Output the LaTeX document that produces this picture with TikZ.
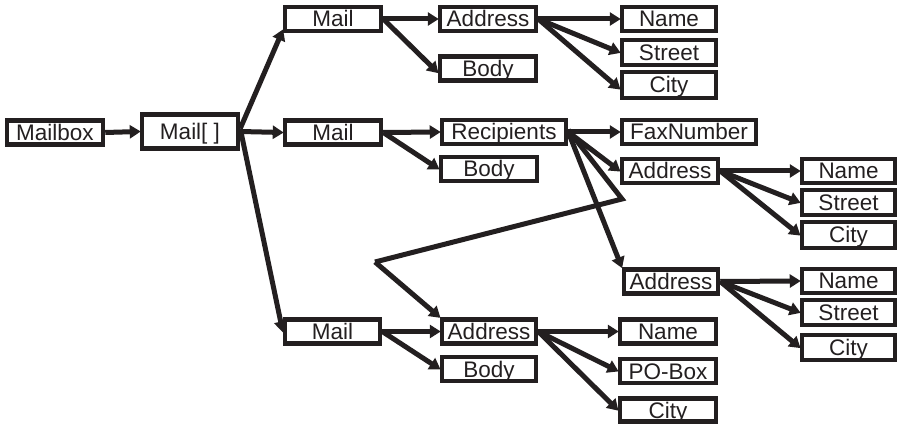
\documentclass[tikz,border=0pt]{standalone}
\usepackage{fontspec}
\setmainfont{Liberation Sans}
\usetikzlibrary{arrows.meta}
\definecolor{ink}{RGB}{35,31,32}
\begin{document}
\begin{tikzpicture}[x=1pt,y=-1pt,
  box/.style={draw=ink,line width=4.5pt,inner sep=0pt,minimum height=24pt,
    font=\fontsize{22.5}{24}\selectfont,text=ink,text height=16pt,text depth=0pt},
  conn/.style={draw=ink,line width=5pt,-{Triangle[length=11pt,width=13pt]},shorten >=-1pt},
  plain/.style={draw=ink,line width=5pt,line join=miter}]
\useasboundingbox (0,0) rectangle (901,427);
% nodes
\node[box,minimum width=96pt] (mailbox) at (55,132.5) {Mailbox};
\node[box,minimum width=96pt,minimum height=34pt] (mailarr) at (190,131.5) {Mail[ ]};
\node[box,minimum width=96pt] (mail1) at (333,19) {Mail};
\node[box,minimum width=96pt] (addr1) at (488,19) {Address};
\node[box,minimum width=96pt] (body1) at (488,68.5) {Body};
\node[box,minimum width=94pt] (name1) at (669,19) {Name};
\node[box,minimum width=94pt,minimum height=25pt] (street1) at (669,52.5) {Street};
\node[box,minimum width=94pt,minimum height=26pt] (city1) at (669,85) {City};
\node[box,minimum width=96pt] (mail2) at (333,132.5) {Mail};
\node[box,minimum width=124pt] (recip) at (504,132) {Recipients};
\node[box,minimum width=96pt] (body2) at (489,169) {Body};
\node[box,minimum width=134pt] (fax) at (689,132) {FaxNumber};
\node[box,minimum width=96pt] (addr2) at (670,171) {Address};
\node[box,minimum width=93pt] (name2) at (848.5,171) {Name};
\node[box,minimum width=93pt,minimum height=25pt] (street2) at (848.5,202.5) {Street};
\node[box,minimum width=93pt,minimum height=26pt] (city2) at (848.5,235) {City};
\node[box,minimum width=94pt] (addr3) at (671,281.5) {Address};
\node[box,minimum width=93pt] (name3) at (848.5,281) {Name};
\node[box,minimum width=93pt,minimum height=25pt] (street3) at (848.5,312.5) {Street};
\node[box,minimum width=93pt,minimum height=25pt] (city3) at (848.5,347.5) {City};
\node[box,minimum width=95pt] (mail3) at (332.5,331.5) {Mail};
\node[box,minimum width=94pt] (addr4) at (489,331.5) {Address};
\node[box,minimum width=94pt] (body3) at (489,369) {Body};
\node[box,minimum width=96pt] (name4) at (668,331.5) {Name};
\node[box,minimum width=96pt] (pobox) at (668,371) {PO-Box};
\node[box,minimum width=96pt,minimum height=23pt] (city4) at (668,410) {City};
\coordinate (k1) at (622,199);
\coordinate (k2) at (375,262);
% connectors
\draw[conn] (mailbox.east) -- (mailarr.west);
\draw[conn] ([yshift=3pt]mailarr.east) -- ([yshift=3pt]mail1.south west);
\draw[conn] (mailarr.east) -- (mail2.west);
\draw[conn] ([yshift=3pt]mailarr.east) -- (mail3.west);
\draw[conn] (mail1.east) -- (addr1.west);
\draw[conn] (mail1.east) -- ([yshift=-4pt]body1.west);
\draw[conn] (addr1.east) -- (name1.west);
\draw[conn] (addr1.east) -- (street1.west);
\draw[conn] (addr1.east) -- ([yshift=-4pt]city1.west);
\draw[conn] (mail2.east) -- (recip.west);
\draw[conn] (mail2.east) -- (body2.west);
\draw[conn] (recip.east) -- (fax.west);
\draw[conn] (recip.east) -- (addr2.west);
\draw[conn] (recip.east) -- (addr3.north west);
\draw[plain] ([yshift=2pt]recip.east) -- (k1) -- (k2);
\draw[conn] (k2) -- (addr4.north west);
\draw[conn] (addr2.east) -- (name2.west);
\draw[conn] (addr2.east) -- (street2.west);
\draw[conn] (addr2.east) -- (city2.west);
\draw[conn] (addr3.east) -- (name3.west);
\draw[conn] (addr3.east) -- (street3.west);
\draw[conn] (addr3.east) -- (city3.west);
\draw[conn] (mail3.east) -- (addr4.west);
\draw[conn] (mail3.east) -- (body3.west);
\draw[conn] (addr4.east) -- (name4.west);
\draw[conn] (addr4.east) -- (pobox.west);
\draw[conn] (addr4.east) -- (city4.west);
\end{tikzpicture}
\end{document}
